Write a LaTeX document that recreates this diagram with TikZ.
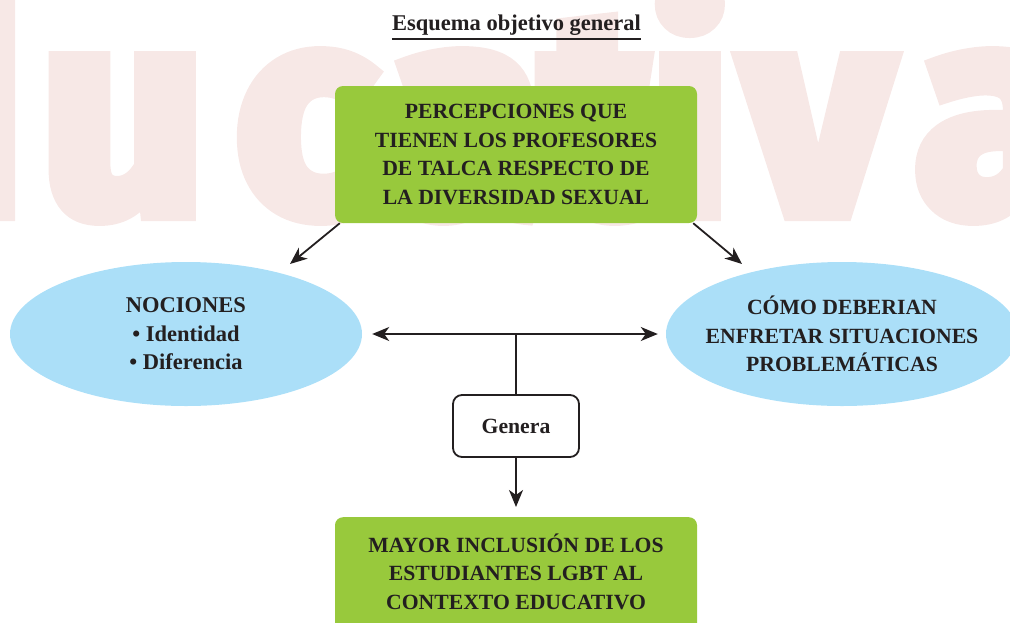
\documentclass[tikz,border=0pt]{standalone}
\usepackage{fontspec}
\setmainfont{Liberation Serif}
\newfontfamily\wmfont{Fira Sans}[FakeBold=5.5]
\usetikzlibrary{shapes.geometric,arrows.meta}
\definecolor{ink}{RGB}{35,31,32}
\definecolor{lgreen}{RGB}{152,201,60}
\definecolor{lblue}{RGB}{171,223,248}
\definecolor{wmpink}{RGB}{247,232,230}
\tikzset{
  mytip/.tip={Stealth[length=17pt,width=14pt,inset=5pt]},
  txt/.style={text=ink, font=\bfseries\fontsize{21.7}{28.4}\selectfont, align=center},
  greenbox/.style={txt, fill=lgreen, rounded corners=8pt, minimum width=362pt, inner sep=0pt},
  blueell/.style={ellipse, fill=lblue, minimum width=352pt, minimum height=144pt, inner sep=0pt},
  genbox/.style={txt, draw=ink, line width=1.8pt, fill=white, rounded corners=9pt, minimum width=126pt, minimum height=62pt, inner sep=0pt},
  wm/.style={text=wmpink, font=\wmfont\bfseries\fontsize{290}{290}\selectfont, anchor=base, inner sep=0pt},
  arr/.style={draw=ink, line width=1.8pt, -{mytip}},
  darr/.style={draw=ink, line width=1.8pt, {mytip}-{mytip}},
  conn/.style={draw=ink, line width=1.8pt},
}
\begin{document}
\begin{tikzpicture}[x=1pt,y=-1pt]
\path[use as bounding box] (0,0) rectangle (1010,622);
\clip (0,0) rectangle (1010,622);
% watermark
\node[wm] (wmd) at (-62,213) {d};
\node[wm] (wmu) at (123,213) {u};
\node[wm] (wmc) at (305,213) {c};
\node[wm] (wma) at (465,213) {a};
\node[wm] (wmt) at (598,213) {t};
\node[wm] (wmi) at (690,213) {i};
\node[wm] (wmv) at (817,213) {v};
\node[wm] (wmaa) at (995,213) {a};
% title
\node[txt, font=\bfseries\fontsize{22.5}{26}\selectfont, anchor=base, inner xsep=0pt] (title) at (516.5,30) {Esquema objetivo general};
\draw[draw=ink, line width=2pt] ([yshift=-9pt]title.base west) -- ([yshift=-9pt]title.base east);
% boxes
\node[greenbox, minimum height=137pt] (top) at (516,154.5) {PERCEPCIONES QUE\\TIENEN LOS PROFESORES\\DE TALCA RESPECTO DE\\LA DIVERSIDAD SEXUAL};
\node[blueell] (left) at (186,334) {};
\node[txt, font=\bfseries\fontsize{22.5}{28.4}\selectfont] (lefttxt) at (left.center) {NOCIONES\\• Identidad\\• Diferencia};
\node[blueell] (right) at (842,334) {};
\node[txt] (righttxt) at (842,334) {CÓMO DEBERIAN\\ENFRETAR SITUACIONES\\PROBLEMÁTICAS};
\node[genbox] (gen) at (516,426) {Genera};
\node[greenbox, minimum height=140pt, anchor=north] (res) at (516,517) {};
\node[txt] (restxt) at (516,571.5) {MAYOR INCLUSIÓN DE LOS\\ESTUDIANTES LGBT AL\\CONTEXTO EDUCATIVO};
% connectors
\coordinate (lt) at (290,264);
\coordinate (rt) at (742,264);
\draw[arr] ([xshift=5pt]top.south west) -- (lt);
\draw[arr] ([xshift=-4pt]top.south east) -- (rt);
\draw[darr] ([xshift=10pt]left.east) -- ([xshift=-8pt]right.west);
\draw[conn] (gen.north) -- (gen.north |- left.east);
\draw[arr] (gen.south) -- ([yshift=10pt]res.north);
\end{tikzpicture}
\end{document}
